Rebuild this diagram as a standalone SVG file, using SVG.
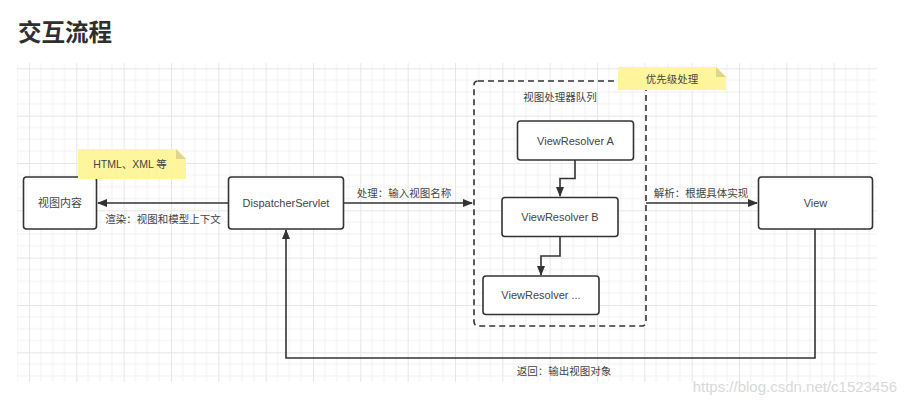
<svg xmlns="http://www.w3.org/2000/svg" width="906" height="405" viewBox="0 0 906 405">
<defs>
<pattern id="grid" patternUnits="userSpaceOnUse" x="29" y="68.33" width="47.333" height="47.333">
<path d="M11.83 0V47.333M23.67 0V47.333M35.5 0V47.333M0 11.83H47.333M0 23.67H47.333M0 35.5H47.333" stroke="#f1f1f1" stroke-width="1" fill="none"/>
<path d="M0.5 0V47.333M0 0.5H47.333" stroke="#e6e6e6" stroke-width="1" fill="none"/>
</pattern>
<marker id="arr" markerWidth="10" markerHeight="8" refX="9" refY="4" orient="auto" markerUnits="userSpaceOnUse">
<path d="M0 0L10 4L0 8Z" fill="#333"/>
</marker>
<style>
.node{fill:#fff;stroke:#333;stroke-width:1.6}
.t{font-family:"Liberation Sans","Noto Sans CJK SC",sans-serif;font-size:11px;fill:#444;text-anchor:middle;dominant-baseline:central}
.lbl{font-family:"Liberation Sans","Noto Sans CJK SC",sans-serif;font-size:10.5px;fill:#444;text-anchor:middle;dominant-baseline:central}
.conn{fill:none;stroke:#333;stroke-width:1.6}
.note{fill:#fff59d}
.fold{fill:#ddd68c}
</style>
</defs>
<rect width="906" height="405" fill="#fff"/>
<text x="18" y="41" font-family="Liberation Sans,'Noto Sans CJK SC',sans-serif" font-size="23.5" font-weight="bold" fill="#2f2f2f">交互流程</text>
<rect x="17" y="63" width="860" height="319" fill="url(#grid)"/>

<g id="connectors">
<path class="conn" d="M228 203H98" marker-end="url(#arr)"/>
<path class="conn" d="M343 203H472" marker-end="url(#arr)"/>
<path class="conn" d="M646 203H757" marker-end="url(#arr)"/>
<path class="conn" d="M575 160V178.5H560V196" marker-end="url(#arr)"/>
<path class="conn" d="M560 236.5V256H541V275" marker-end="url(#arr)"/>
<path class="conn" d="M815 229V358H286V230" marker-end="url(#arr)"/>
<text class="lbl" x="163" y="219">渲染：视图和模型上下文</text>
<text class="lbl" x="404" y="193">处理：输入视图名称</text>
<text class="lbl" x="701" y="193">解析：根据具体实现</text>
<text class="lbl" x="564" y="371">返回：输出视图对象</text>
</g>

<g id="queue">
<rect x="474" y="81" width="172" height="245" rx="4" fill="none" stroke="#333" stroke-width="1.6" stroke-dasharray="6 4"/>
<text class="lbl" x="560" y="97">视图处理器队列</text>
</g>

<g id="viewContent">
<rect class="node" x="23.5" y="177" width="73" height="52" rx="3"/>
<text class="t" x="60" y="203">视图内容</text>
</g>

<g id="dispatcher">
<rect class="node" x="228.5" y="177" width="115" height="52" rx="3"/>
<text class="t" x="286" y="203">DispatcherServlet</text>
</g>

<g id="resolverA">
<rect class="node" x="517.5" y="121" width="116" height="39" rx="3"/>
<text class="t" x="575.5" y="140.5">ViewResolver A</text>
</g>

<g id="resolverB">
<rect class="node" x="502" y="197.5" width="116" height="39" rx="3"/>
<text class="t" x="560" y="217">ViewResolver B</text>
</g>

<g id="resolverN">
<rect class="node" x="483" y="276" width="116" height="38.5" rx="3"/>
<text class="t" x="541" y="295">ViewResolver ...</text>
</g>

<g id="view">
<rect class="node" x="758.5" y="177" width="114" height="52" rx="3"/>
<text class="t" x="815.5" y="203">View</text>
</g>

<g id="noteHtml">
<path class="note" d="M78 149H176L186 159V179H78Z"/>
<path class="fold" d="M176 149V159H186Z"/>
<text class="lbl" x="130" y="164">HTML、XML 等</text>
</g>

<g id="notePriority">
<path class="note" d="M618 67H716L726 77V90H618Z"/>
<path class="fold" d="M716 67V77H726Z"/>
<text class="lbl" x="672" y="79">优先级处理</text>
</g>

<text x="897" y="392" font-family="Liberation Sans,sans-serif" font-size="15" fill="#d8d8d8" text-anchor="end">https://blog.csdn.net/c1523456</text>
</svg>
